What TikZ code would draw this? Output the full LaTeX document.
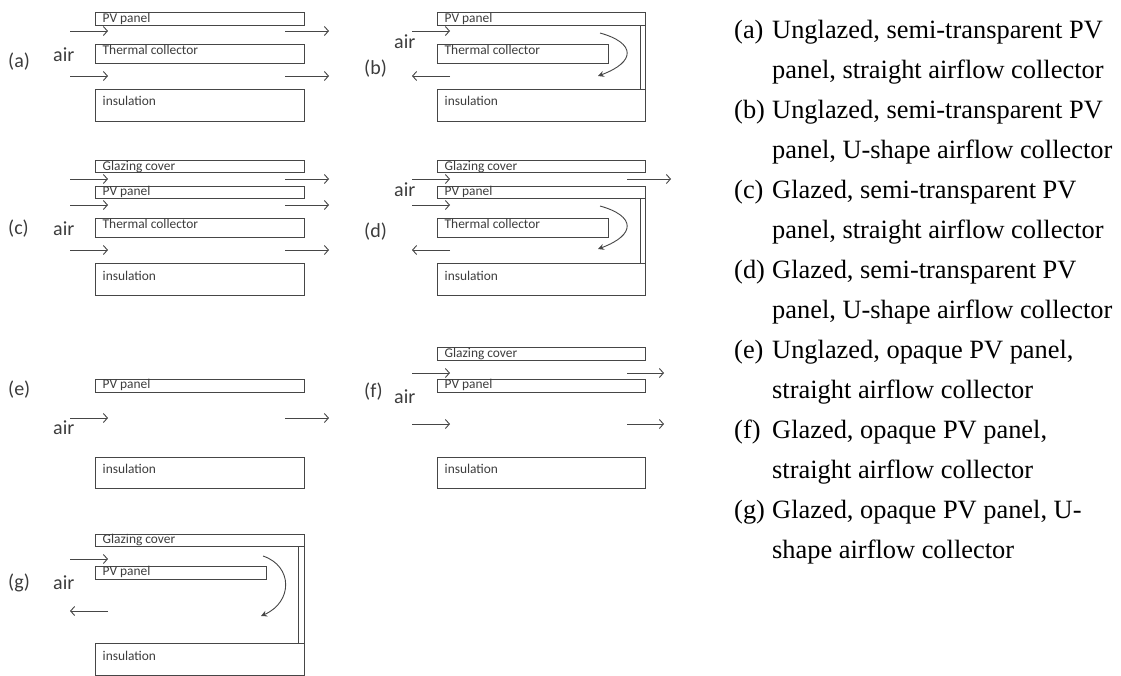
\documentclass[tikz,border=0pt]{standalone}
\usepackage{fontspec}
\setmainfont{Liberation Serif}
\newfontfamily\labelfont{Carlito}
\usetikzlibrary{positioning,arrows.meta}
\definecolor{linegray}{RGB}{70,70,70}
\definecolor{textgray}{RGB}{60,60,60}
\tikzset{
  layer/.style={draw=linegray, line width=1.2pt, anchor=north west, inner sep=0pt},
  boxtxt/.style={anchor=west, inner sep=0pt, text=textgray, font=\labelfont\fontsize{13.4}{15}\selectfont},
  tag/.style={anchor=west, inner sep=0pt, text=textgray, font=\labelfont\fontsize{20}{22}\selectfont},
  arr/.style={-{Straight Barb[length=4pt,width=9pt]}, line width=0.9pt, draw=linegray},
  turn/.style={-{Stealth[length=6pt,width=6pt]}, line width=0.9pt, draw=linegray},
  captxt/.style={anchor=base west, inner sep=0pt, font=\fontsize{26.4}{28}\selectfont},
}
\begin{document}
\begin{tikzpicture}[x=1pt,y=-1pt]
  \useasboundingbox (0,0) rectangle (1121,675);
  % boxes: name/left/top/width/height/text/text y
  \foreach \n/\x/\y/\w/\h/\t/\ty in {
    pvA/95/12/209/13/PV panel/19, thA/95/44/209/19/Thermal collector/50, inA/95/89/209/32/insulation/101,
    pvB/437/12/208/13/PV panel/19, thB/437/44/171/19/Thermal collector/50, inB/437/89/208/32/insulation/101,
    glC/95/160/209/12/Glazing cover/167, pvC/95/186/209/12/PV panel/192, thC/95/218/209/19/Thermal collector/224, inC/95/263/209/32/insulation/276,
    glD/437/160/208/12/Glazing cover/167, pvD/437/186/208/12/PV panel/192, thD/437/218/171/19/Thermal collector/224, inD/437/263/208/32/insulation/276,
    pvE/95/379/209/13/PV panel/385, inE/95/457/209/31/insulation/469,
    glF/437/347/208/13/Glazing cover/354, pvF/437/379/208/13/PV panel/385, inF/437/457/208/31/insulation/469,
    glG/95/534/209/12/Glazing cover/540, pvG/95/566/171/13/PV panel/572, inG/95/643/209/32/insulation/656}{
    \node[layer, minimum width=\w, minimum height=\h] (\n) at (\x,\y) {};
    \node[boxtxt] (\n txt) at (\x+7.5,\ty) {\t};
  }
  % back walls
  \foreach \n/\x/\y/\w/\h in {wB/640/25/5/64, wD/640/198/5/65, wG/298/546/6/97}{
    \node[layer, minimum width=\w, minimum height=\h] (\n) at (\x,\y) {};
  }
  % airflow: name/from x/to x/y
  \foreach \n/\x/\X/\y in {
    a1/70/108/31, a2/285/329/31, a3/70/108/76, a4/285/329/76,
    b1/412/450/31, b2/450/412/76,
    c1/70/108/179, c2/285/329/179, c3/70/108/205, c4/285/329/205, c5/70/108/250, c6/285/329/250,
    d1/412/450/179, d2/627/671/179, d3/412/450/205, d4/450/412/250,
    e1/70/108/418, e2/285/329/418,
    f1/412/450/373, f2/627/664/373, f3/412/450/424, f4/627/664/424,
    g1/70/108/559, g2/108/70/611}{
    \coordinate (\n s) at (\x,\y);
    \coordinate (\n e) at (\X,\y);
    \draw[arr] (\n s) -- (\n e);
  }
  % u-turns
  \foreach \n/\x/\y/\X/\Y/\d in {tB/600/33/598/76/36, tD/600/206/598/249/36, tG/263/556/261/616/30}{
    \coordinate (\n s) at (\x,\y);
    \coordinate (\n e) at (\X,\Y);
    \draw[turn] (\n s) .. controls (\x+\d,\y+10) and (\x+\d,\Y-14) .. (\n e);
  }
  % tags
  \foreach \n/\x/\y/\t in {
    lA/8/62/(a), lB/364/69/(b), lC/8/229/(c), lD/364/232/(d), lE/8/390/(e), lF/364/392/(f), lG/8/583/(g),
    airA/53/55/air, airB/394/42/air, airC/53/229/air, airD/394/190/air, airE/53/428/air, airF/394/397/air, airG/53/583/air}{
    \node[tag] (\n) at (\x,\y) {\t};
  }
  % caption list
  \foreach \n/\y/\t/\u in {
    capA/38/(a)/{Unglazed, semi-transparent PV}, capB/118/(b)/{Unglazed, semi-transparent PV},
    capC/198/(c)/{Glazed, semi-transparent PV}, capD/278/(d)/{Glazed, semi-transparent PV},
    capE/358/(e)/{Unglazed, opaque PV panel,}, capF/438/(f)/{Glazed, opaque PV panel,},
    capG/518/(g)/{Glazed, opaque PV panel, U-}}{
    \node[captxt] (\n) at (734,\y) {\t};
    \node[captxt] (\n txt) at (772,\y) {\u};
  }
  \foreach \n/\y/\u in {
    capAb/78/{panel, straight airflow collector}, capBb/158/{panel, U-shape airflow collector},
    capCb/238/{panel, straight airflow collector}, capDb/318/{panel, U-shape airflow collector},
    capEb/398/{straight airflow collector}, capFb/478/{straight airflow collector},
    capGb/558/{shape airflow collector}}{
    \node[captxt] (\n) at (772,\y) {\u};
  }
\end{tikzpicture}
\end{document}
